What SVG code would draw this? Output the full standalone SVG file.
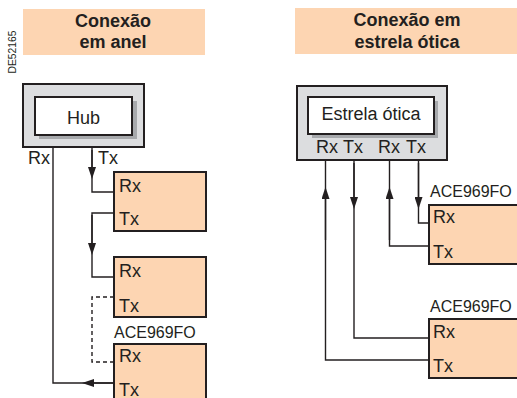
<svg xmlns="http://www.w3.org/2000/svg" width="517" height="398" viewBox="0 0 517 398">
<style>
text{font-family:"Liberation Sans",Arial,sans-serif;fill:#231f20}
.title{font-size:18px;font-weight:bold;text-anchor:middle}
.port{font-size:18px}
.lbl{font-size:16px}
.band{fill:#fdd5b2}
.dev{fill:#fdd5b2;stroke:#231f20;stroke-width:2}
.outer{fill:#dcdddf;stroke:#231f20;stroke-width:2}
.shadow{fill:#a7a9ac}
.inner{fill:#fff;stroke:#231f20;stroke-width:2}
.ln{fill:none;stroke:#231f20;stroke-width:1.4}
.dash{stroke-dasharray:4 3}
</style>
<defs>
<marker id="arr" viewBox="0 0 12 8" refX="6" refY="4" markerWidth="12" markerHeight="8" markerUnits="userSpaceOnUse" orient="auto">
<path d="M0,0 L12,4 L0,8 Z" fill="#231f20"/>
</marker>
</defs>
<rect x="0" y="0" width="517" height="398" fill="#fff"/>
<text transform="translate(16,52) rotate(-90)" font-size="10.3" text-anchor="middle">DE52165</text>
<g id="title-anel">
<rect class="band" x="23" y="9" width="182" height="46"/>
<text class="title" x="113" y="27">Conexão</text>
<text class="title" x="113" y="48">em anel</text>
</g>
<g id="title-estrela">
<rect class="band" x="295" y="8" width="222" height="46"/>
<text class="title" x="407" y="26">Conexão em</text>
<text class="title" x="407" y="48">estrela ótica</text>
</g>
<g id="hub">
<rect class="outer" x="23" y="84" width="121" height="63"/>
<rect class="shadow" x="39" y="101" width="98" height="38"/>
<rect class="inner" x="35" y="97" width="97" height="38"/>
<text x="83.5" y="124" font-size="18" text-anchor="middle">Hub</text>
<text class="port" x="28" y="164">Rx</text>
<text class="port" x="98" y="164">Tx</text>
</g>
<g id="ring-dev1">
<rect class="dev" x="114" y="172" width="92" height="59"/>
<text class="port" x="119" y="192">Rx</text>
<text class="port" x="119" y="225">Tx</text>
</g>
<g id="ring-dev2">
<rect class="dev" x="114" y="257" width="92" height="60"/>
<text class="port" x="119" y="277">Rx</text>
<text class="port" x="119" y="312">Tx</text>
</g>
<g id="ring-dev3">
<text class="lbl" x="114" y="338">ACE969FO</text>
<rect class="dev" x="114" y="344" width="92" height="60"/>
<text class="port" x="119" y="362">Rx</text>
<text class="port" x="119" y="396">Tx</text>
</g>
<g id="star">
<rect class="outer" x="297" y="86" width="150" height="74"/>
<rect class="shadow" x="312" y="101" width="126" height="37"/>
<rect class="inner" x="308" y="97" width="126" height="37"/>
<text x="371" y="120" font-size="18" text-anchor="middle">Estrela ótica</text>
<text class="port" x="316" y="153">Rx</text>
<text class="port" x="343" y="153">Tx</text>
<text class="port" x="378" y="153">Rx</text>
<text class="port" x="406" y="153">Tx</text>
</g>
<g id="star-dev1">
<text class="lbl" x="430" y="197">ACE969FO</text>
<rect class="dev" x="429" y="205" width="92" height="59"/>
<text class="port" x="433" y="223">Rx</text>
<text class="port" x="433" y="258">Tx</text>
</g>
<g id="star-dev2">
<text class="lbl" x="430" y="312">ACE969FO</text>
<rect class="dev" x="429" y="319" width="92" height="59"/>
<text class="port" x="433" y="338">Rx</text>
<text class="port" x="433" y="372">Tx</text>
</g>
<g id="connectors">
<path class="ln" d="M53,147 V383 H114"/>
<line class="ln" x1="114" y1="383" x2="88" y2="383" marker-end="url(#arr)"/>
<path class="ln" d="M92,147 V192 H114"/>
<line class="ln" x1="92" y1="150" x2="92" y2="173" marker-end="url(#arr)"/>
<path class="ln" d="M114,213 H92 V277 H114"/>
<line class="ln" x1="92" y1="215" x2="92" y2="249" marker-end="url(#arr)"/>
<path class="ln dash" d="M114,297 H92 V362 H114"/>
<path class="ln" d="M325.5,160 V360 H429"/>
<line class="ln" x1="325.5" y1="240" x2="325.5" y2="193" marker-end="url(#arr)"/>
<path class="ln" d="M354,160 V338 H429"/>
<line class="ln" x1="354" y1="163" x2="354" y2="203" marker-end="url(#arr)"/>
<path class="ln" d="M389.5,160 V246 H429"/>
<line class="ln" x1="389.5" y1="240" x2="389.5" y2="193" marker-end="url(#arr)"/>
<path class="ln" d="M418.5,160 V223 H429"/>
<line class="ln" x1="418.5" y1="163" x2="418.5" y2="203" marker-end="url(#arr)"/>
</g>
</svg>
